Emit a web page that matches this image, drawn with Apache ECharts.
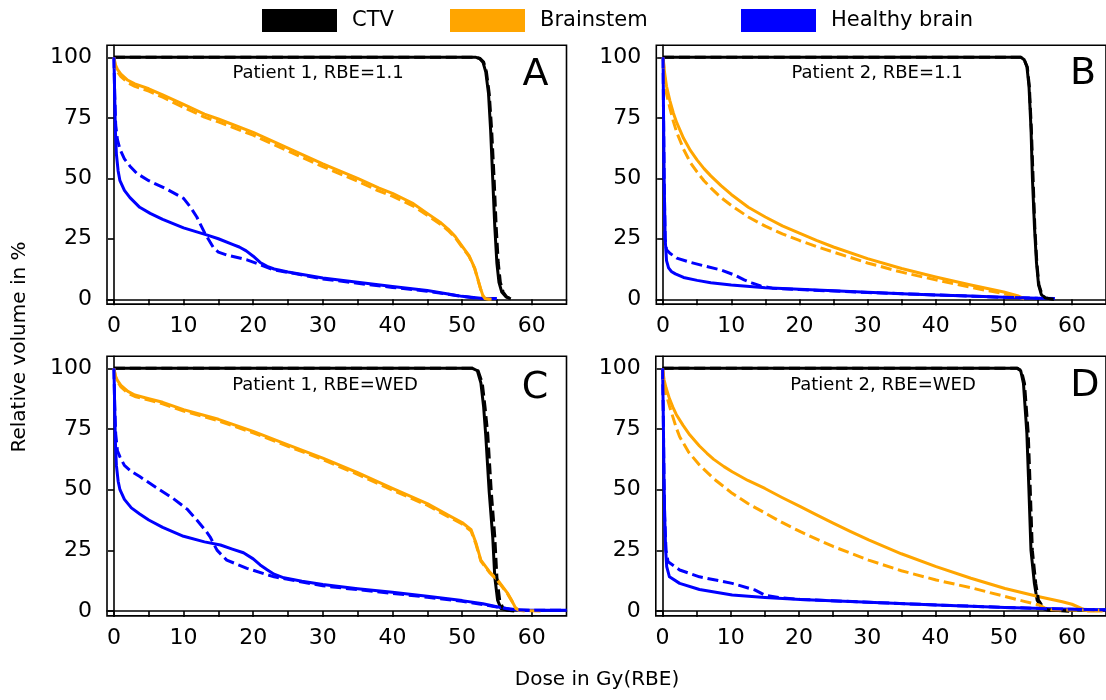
<!DOCTYPE html>
<html>
<head>
<meta charset="utf-8">
<title>Dose-volume histograms</title>
<script src="https://cdn.jsdelivr.net/npm/echarts@6/dist/echarts.min.js"></script>
<style>
  html, body { margin: 0; padding: 0; background: #fff; }
  #chart { width: 1106px; height: 700px; }
</style>
</head>
<body>
<div id="chart"></div>
<script>
// Structures shown in every panel, with their colours
const structures = ['CTV', 'Brainstem', 'Healthy brain'];
const structureColors = ['#000000', '#FFA500', '#0000FF'];

// Panel titles and letters
const panelTitles = ['Patient 1, RBE=1.1', 'Patient 2, RBE=1.1', 'Patient 1, RBE=WED', 'Patient 2, RBE=WED'];
const panelLetters = ['A', 'B', 'C', 'D'];

// Axis ticks
const xTicks = [0, 5, 10, 15, 20, 25, 30, 35, 40, 45, 50, 55, 60];
const xTickLabels = [0, 10, 20, 30, 40, 50, 60];
const yTicks = [0, 25, 50, 75, 100];

// ---- Patient 1, RBE=1.1 : [dose Gy(RBE), relative volume %] ----
const p1r11CtvSolid = [[0,100],[52,100],[52.5,99.5],[53,98],[53.4,94],[53.8,85],[54.1,70],[54.4,50],[54.7,30],[55,15],[55.3,7],[55.7,3],[56.3,1],[57,0.2]];
const p1r11CtvDashed = [[0,100],[52,100],[52.6,99.5],[53.1,98],[53.5,94],[53.9,85],[54.25,70],[54.6,50],[54.9,30],[55.2,15],[55.5,7],[55.9,3],[56.4,1],[57,0.2]];
const p1r11BsSolid = [[0,100],[0.2,97],[0.5,95],[1,93],[2,90.5],[3,89],[5,87],[7,84.5],[10,80.5],[13,76.5],[15,74.5],[20,69],[25,62.5],[30,56],[35,50],[38,46],[40,43.8],[43,39.5],[45,35.5],[47,31.5],[48,29],[49,26],[50,22],[51,18],[51.8,13],[52.3,8],[52.7,4],[53,1.5],[53.3,0.3],[54,0]];
const p1r11BsDashed = [[0,100],[0.2,96],[0.5,94],[1,92],[2,89.5],[3,88],[5,86],[7,83.5],[10,79.3],[13,75.3],[15,73.3],[20,67.8],[25,61.3],[30,54.8],[35,48.8],[38,44.8],[40,42.6],[43,38.5],[45,34.7],[47,30.8],[48,28.4],[49,25.5],[50,21.6],[51,17.7],[51.8,12.8],[52.3,7.8],[52.7,3.8],[53,1.4],[53.3,0.3],[54.3,0]];
const p1r11BrainSolid = [[0,100],[0.1,85],[0.2,70],[0.35,60],[0.6,53],[0.86,49],[1.5,45],[2.3,42],[3.7,38],[5.2,35.5],[7,33],[10,29.5],[13.3,26.6],[15,25],[17.2,22.5],[18,21.6],[19,20],[20,17.8],[21,15.2],[22,13.6],[23,12.5],[25,11.3],[30,8.8],[35,7],[40,5.3],[45,3.6],[48,2.2],[50,1.2],[52,0.6],[53,0.3],[55,0.3]];
const p1r11BrainDashed = [[0,100],[0.1,85],[0.25,72],[0.5,66],[0.86,62],[1.5,58],[2.3,55],[3.3,52],[5,49],[7.6,45.5],[10,41.7],[11,38],[11.9,34],[13.1,27],[14.3,21.3],[15,19.5],[16.2,18.3],[19.1,16.3],[23,12.1],[25.8,10.7],[30,8.4],[35,6.6],[40,4.9],[45,3.3],[50,1.2],[52,0.5]];

// ---- Patient 2, RBE=1.1 ----
const p2r11CtvSolid = [[0,100],[52.5,100],[53,99],[53.4,96],[53.7,88],[54,70],[54.2,50],[54.5,30],[54.8,15],[55.1,6],[55.5,2],[56,0.5],[57.4,0]];
const p2r11CtvDashed = [[0,100],[52.5,100],[53,99],[53.45,96],[53.75,88],[54.05,70],[54.3,50],[54.55,30],[54.85,15],[55.15,6],[55.6,2],[56.1,0.5],[57.4,0]];
const p2r11BsSolid = [[0,100],[0.2,94],[0.5,88],[1,82],[1.5,77],[2,73],[3,66.5],[4,61.5],[5,57.5],[6,54],[7,51],[8.5,47],[10,43.3],[12.5,38],[15,34],[17.5,30.3],[20,27.3],[22.5,24.3],[25,21.6],[30,16.8],[35,12.7],[40,9.2],[45,6],[50,3],[52,1.5],[53,0.3]];
const p2r11BsDashed = [[0,100],[0.2,92],[0.5,85],[1,79],[1.5,73.5],[2,69],[3,62],[4,56.5],[5,52.5],[6,49],[7,46],[8.5,42],[10,38.8],[12.5,34],[15,30.2],[17.5,27],[20,24.3],[22.5,21.8],[25,19.5],[30,15],[35,11.2],[40,8],[45,5],[50,2.3],[52,1],[53,0.2]];
const p2r11BrainSolid = [[0,100],[0.05,80],[0.15,50],[0.3,25],[0.5,16],[0.8,13],[1.2,11.5],[1.8,10.5],[3,9],[5,7.8],[7,6.8],[10,5.9],[15,4.8],[20,4.1],[25,3.5],[30,2.9],[35,2.3],[40,1.8],[45,1.3],[50,0.8],[55,0.4],[57.5,0.3]];
const p2r11BrainDashed = [[0,100],[0.05,80],[0.15,50],[0.3,25],[0.5,20.5],[1,19],[2,17],[3.7,15.5],[6,13.8],[8.5,12.1],[10.5,10],[11.9,8],[13,6.8],[14.3,5.5],[16,4.6],[20,4],[30,2.8],[40,1.8],[50,0.8],[55,0.4]];

// ---- Patient 1, RBE=WED ----
const p1wedCtvSolid = [[0,100],[51.5,100],[52.2,99],[52.7,94],[53.1,84],[53.4,72.5],[53.9,49],[54.4,30.6],[54.7,14],[55.1,4.5],[55.6,1],[56.5,0.3],[57.5,0]];
const p1wedCtvDashed = [[0,100],[51.5,100],[52.3,99],[52.9,94],[53.3,84],[53.7,72.5],[54.2,49],[54.7,30.6],[55,14],[55.4,4.5],[55.9,1],[56.7,0.3],[57.5,0]];
const p1wedBsSolid = [[0,100],[0.2,97],[0.5,95],[1,93],[2,90.5],[3,89],[5,87.5],[7,86],[10,83],[15,79],[20,74],[25,68.5],[30,63],[35,57],[40,50.5],[45,44.3],[48,39.5],[50,36.5],[51.3,33.5],[52,28],[52.7,21],[53.9,16.3],[55.1,12.8],[56.5,7.5],[57.2,4],[57.7,1.2],[58.2,0.3],[59,0]];
const p1wedBsDashed = [[0,100],[0.2,96.5],[0.5,94.5],[1,92.4],[2,89.8],[3,88.4],[5,86.9],[7,85.4],[10,82.4],[15,78.4],[20,73.4],[25,67.9],[30,62.4],[35,56.3],[40,49.8],[45,43.6],[48,38.9],[50,35.9],[51.3,32.9],[52,27.5],[52.7,20.6],[53.9,16],[55.1,12.5],[56.5,7.2],[57.2,3.8],[57.7,1.1],[58.2,0.3],[61.3,0]];
const p1wedBrainSolid = [[0,100],[0.1,85],[0.2,70],[0.35,60],[0.6,53.5],[0.86,50],[1.5,46],[2.5,42.5],[3.7,40],[5,37.5],[7,34.5],[10,30.8],[13,28.5],[15.3,27.2],[17,25.5],[18.6,24],[20,21.5],[21,19],[22,17],[23,15.2],[24.4,13.7],[27,12.3],[30,10.9],[35,9.2],[40,7.7],[45,6.1],[50,4.3],[53,3],[55,1.8],[57,0.8],[58,0.4],[60,0.3],[65,0.3]];
const p1wedBrainDashed = [[0,100],[0.1,85],[0.25,73],[0.5,66],[0.86,63.5],[1.5,60],[2.5,57.5],[3.7,55.4],[6,51],[8.5,46.4],[10.5,42],[11.9,37.5],[13.2,33],[13.8,30.6],[14.8,25.1],[15.5,23],[16.2,21],[19.1,17.6],[23,14.1],[27,12],[30,10.4],[35,8.8],[40,7.3],[45,5.7],[50,4],[55,1.7],[57,0.7],[60,0.3],[65,0.3]];

// ---- Patient 2, RBE=WED ----
const p2wedCtvSolid = [[0,100],[52,100],[52.5,99],[52.9,93.8],[53.4,73.2],[53.7,49.9],[54,25.1],[54.5,11.4],[54.9,4.5],[55.7,1.1],[56.4,0.4],[59.6,0]];
const p2wedCtvDashed = [[0,100],[52,100],[52.6,99],[53.05,93.8],[53.6,73.2],[53.9,49.9],[54.2,25.1],[54.7,11.4],[55.1,4.5],[55.9,1.1],[56.6,0.4],[59.6,0]];
const p2wedBsSolid = [[0,100],[0.2,95.5],[0.5,92],[1,87.5],[1.5,84],[2,81],[3,76.5],[4,72.5],[5.4,68],[6.5,65],[7.5,62.5],[9,59.5],[10.2,57.4],[12.5,53.8],[15,50.5],[17.5,46.8],[20.2,43],[22.5,39.7],[25,36.2],[27.5,32.8],[30.2,29.3],[35,23.6],[40.1,18.3],[45.2,13.5],[50.2,9.3],[55.2,5.9],[58.6,3.8],[60,2.8],[61.4,1.1],[62.4,0],[64.5,0]];
const p2wedBsDashed = [[0,100],[0.2,94],[0.5,89.5],[1,84.5],[1.5,80],[2,75.5],[2.5,71.8],[3.8,65.5],[5.4,60.2],[7.5,54.5],[10.2,48.5],[12.5,44.3],[15,40.4],[17.5,36.5],[20.2,32.7],[25,26.6],[30.2,21],[35,16.6],[40.1,12.8],[45.2,9.6],[50.2,6],[53,4],[55.2,2.5],[56,1.3],[57,0.5],[64.5,0.3]];
const p2wedBrainSolid = [[0,100],[0.1,80],[0.2,55],[0.3,39],[0.45,25],[0.6,18.3],[1,14.1],[2.5,11.4],[5.4,8.9],[10.2,6.6],[15,5.6],[20.2,4.8],[30.2,3.6],[40.1,2.5],[50.2,1.5],[60,0.7],[65,0.5]];
const p2wedBrainDashed = [[0,100],[0.1,80],[0.2,55],[0.3,39],[0.5,25],[0.8,20.3],[2.5,16.9],[5.4,14.1],[10.2,11.4],[13.5,8.7],[15,6.5],[17,5.6],[20.2,4.8],[30.2,3.6],[40.1,2.5],[50.2,1.5],[60,0.7],[65,0.5]];

// Curves per panel, in structure order: [solid, dashed]
const panelCurves = [
  [[p1r11CtvSolid, p1r11CtvDashed], [p1r11BsSolid, p1r11BsDashed], [p1r11BrainSolid, p1r11BrainDashed]],
  [[p2r11CtvSolid, p2r11CtvDashed], [p2r11BsSolid, p2r11BsDashed], [p2r11BrainSolid, p2r11BrainDashed]],
  [[p1wedCtvSolid, p1wedCtvDashed], [p1wedBsSolid, p1wedBsDashed], [p1wedBrainSolid, p1wedBrainDashed]],
  [[p2wedCtvSolid, p2wedCtvDashed], [p2wedBsSolid, p2wedBsDashed], [p2wedBrainSolid, p2wedBrainDashed]]
];

// Panel placement (pixels)
const gridBoxes = [
  { left: 107, top: 45.2, width: 459.5, height: 258.9 },
  { left: 656.3, top: 45.2, width: 458.4, height: 258.9 },
  { left: 107, top: 356.2, width: 459.5, height: 259.7 },
  { left: 655.8, top: 356.2, width: 458.4, height: 259.7 }
];
const titleCenters = [[318, 73], [877, 73], [325, 385], [883, 385]];
const letterCenters = [[535.5, 75], [1083, 74], [535, 388], [1085, 386]];

const FONT = 'DejaVu Sans';
const DASH = [11, 4.8];

const grids = [], xAxes = [], yAxes = [], series = [], graphics = [];
gridBoxes.forEach((b, i) => {
  grids.push(Object.assign({ show: true, borderColor: '#000', borderWidth: 1.6, backgroundColor: 'transparent' }, b));
  xAxes.push({
    gridIndex: i, type: 'value', min: -1, max: 65,
    axisLine: { show: true, lineStyle: { color: '#000', width: 1.6 } },
    splitLine: { show: false },
    axisTick: { show: true, length: 6, lineStyle: { color: '#000', width: 1.6 }, customValues: xTicks },
    axisLabel: { customValues: xTickLabels, fontSize: 22, fontFamily: FONT, color: '#000', margin: 11 }
  });
  yAxes.push({
    gridIndex: i, type: 'value', min: -2, max: 105,
    axisLine: { show: true, lineStyle: { color: '#000', width: 1.6 } },
    splitLine: { show: false },
    axisTick: { show: true, length: 6, lineStyle: { color: '#000', width: 1.6 }, customValues: yTicks },
    axisLabel: { customValues: yTicks, fontSize: 22, fontFamily: FONT, color: '#000', margin: 15 }
  });
  // solid curves first, dashed after
  [0, 1].forEach(k => {
    panelCurves[i].forEach((pair, s) => {
      series.push({
        name: structures[s], type: 'line', xAxisIndex: i, yAxisIndex: i,
        data: pair[k], showSymbol: false, symbol: 'none', smooth: false,
        itemStyle: { color: structureColors[s] },
        lineStyle: { color: structureColors[s], width: 3, type: k === 0 ? 'solid' : DASH, join: 'round', cap: 'butt' },
        emphasis: { disabled: true }, silent: true, z: 2 + k
      });
    });
  });
  graphics.push({
    type: 'text', x: titleCenters[i][0], y: titleCenters[i][1],
    style: { text: panelTitles[i], font: '18px "' + FONT + '"', fill: '#000', textAlign: 'center', textVerticalAlign: 'middle' }
  });
  graphics.push({
    type: 'text', x: letterCenters[i][0], y: letterCenters[i][1],
    style: { text: panelLetters[i], font: '38px "' + FONT + '"', fill: '#000', textAlign: 'center', textVerticalAlign: 'middle' }
  });
});

// Shared axis titles
graphics.push({
  type: 'text', x: 20, y: 347, rotation: Math.PI / 2,
  style: { text: 'Relative volume in %', font: '20px "' + FONT + '"', fill: '#000', textAlign: 'center', textVerticalAlign: 'middle' }
});
graphics.push({
  type: 'text', x: 597, y: 680,
  style: { text: 'Dose in Gy(RBE)', font: '20px "' + FONT + '"', fill: '#000', textAlign: 'center', textVerticalAlign: 'middle' }
});

const legendLefts = [262, 450, 741];
const legends = structures.map((name, s) => ({
  data: [name], left: legendLefts[s], top: 9, padding: 0, orient: 'horizontal',
  icon: 'rect', itemWidth: 75, itemHeight: 23,
  itemStyle: { borderWidth: 0 },
  textStyle: { fontSize: 21, fontFamily: FONT, color: '#000', padding: [0, 0, 0, 10] },
  selectedMode: false
}));

const chart = echarts.init(document.getElementById('chart'), null, { renderer: 'canvas' });
chart.setOption({
  animation: false,
  backgroundColor: '#fff',
  legend: legends,
  grid: grids,
  xAxis: xAxes,
  yAxis: yAxes,
  series: series,
  graphic: graphics
});
</script>
</body>
</html>
